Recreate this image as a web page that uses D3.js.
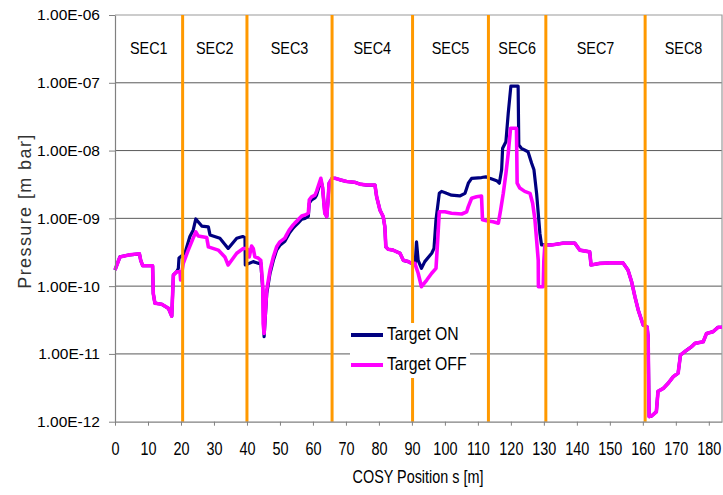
<!DOCTYPE html>
<html>
<head>
<meta charset="utf-8">
<script src="https://cdn.jsdelivr.net/npm/d3@7"></script>
<style>
  body { margin: 0; background: #fff; }
  svg { display: block; font-family: "Liberation Sans", Arial, sans-serif; }
</style>
</head>
<body>
<svg id="chart" width="723" height="495"></svg>
<script>
// Axis ticks
const xTicks = [0, 10, 20, 30, 40, 50, 60, 70, 80, 90, 100, 110, 120, 130, 140, 150, 160, 170, 180];
const yTicks = [1e-12, 1e-11, 1e-10, 1e-9, 1e-8, 1e-7, 1e-6];

// Ring sections and their boundaries along s [m]
const sectionNames = ["SEC1", "SEC2", "SEC3", "SEC4", "SEC5", "SEC6", "SEC7", "SEC8"];
const sectionEdges = [0, 20.5, 40, 65.8, 90.2, 113.2, 130.6, 160.7, 184];

// Pressure profile, target off
const offPos = [0, 1.5, 4.5, 7.4, 7.8, 8.4, 11.4, 11.6, 12.1, 14.2, 16.2, 17.2, 17.7, 18.7, 19.7, 19.9,
  20.7, 22.2, 23.7, 24.5, 25.2, 27.8, 28.3, 31.3, 33.3, 34.3, 36.9, 38.9, 39.9,
  40.4, 40.7, 41.4, 41.9, 42.4, 43.4, 44.2, 44.8, 44.9, 45.2, 46.0, 47.0, 48.0, 49.0, 50.0,
  51.5, 52.0, 52.8, 54.0, 54.5, 55.5, 56.6, 57.6, 58.6, 58.9, 59.6, 60.6, 61.1, 61.9, 62.4,
  62.9, 63.6, 64.2, 64.6, 64.9, 65.8, 66.7, 68.2, 70.2, 72.7, 74.2, 76.3, 78.8, 79.3, 80.3,
  81.3, 81.8, 82.1, 82.8, 84.3, 86.4, 87.4, 88.9, 89.9, 90.9, 91.9, 92.9, 94.5, 96.0, 97.3,
  97.7, 98.3, 100.0, 102.0, 105.1, 106.6, 107.1, 108.1, 109.6, 111.1, 111.4, 112.6, 114.6,
  116.2, 116.9, 117.7, 118.5, 119.2, 119.9, 121.7, 121.9, 122.7, 124.2, 125.8, 126.6, 127.3,
  127.8, 128.3, 128.35, 129.8, 130.0, 130.3, 132.3, 135.8, 139.4, 140.9, 143.9, 144.3, 147.0,
  150.0, 154.0, 155.5, 156.6, 157.6, 158.6, 160.1, 161.3, 161.6, 161.9, 162.6, 164.1, 164.6,
  166.2, 167.7, 169.2, 170.7, 171.4, 172.7, 174.8, 175.8, 178.3, 179.3, 181.3, 182.8, 184];
const offVal = [1.73e-10, 2.7e-10, 2.9e-10, 3.0e-10, 2.4e-10, 2.0e-10, 2.0e-10, 7.8e-11, 5.6e-11, 5.4e-11, 4.7e-11, 3.6e-11, 1.46e-10, 1.63e-10, 1.63e-10, 1.23e-10,
  2.17e-10, 3.4e-10, 5.1e-10, 6.3e-10, 5.5e-10, 5.2e-10, 3.8e-10, 3.4e-10, 2.7e-10, 2.05e-10, 3.05e-10, 3.6e-10, 3.6e-10,
  3.4e-10, 2.7e-10, 3.9e-10, 3.6e-10, 2.7e-10, 2.6e-10, 2.4e-10, 9.8e-11, 2.8e-11, 2.0e-11, 8.8e-11, 1.73e-10, 2.7e-10, 3.8e-10, 4.5e-10,
  5.1e-10, 5.7e-10, 6.7e-10, 8.0e-10, 8.5e-10, 9.5e-10, 1.08e-9, 1.12e-9, 1.19e-9, 1.87e-9, 2.08e-9, 2.2e-9, 2.5e-9, 3.3e-9, 3.9e-9,
  2.9e-9, 1.19e-9, 1.06e-9, 1.87e-9, 3.3e-9, 3.9e-9, 3.9e-9, 3.7e-9, 3.5e-9, 3.4e-9, 3.2e-9, 3.1e-9, 3.1e-9, 2.1e-9, 1.33e-9,
  1.06e-9, 7.5e-10, 3.8e-10, 3.5e-10, 3.4e-10, 3.05e-10, 2.4e-10, 2.3e-10, 2.17e-10, 2.17e-10, 1.55e-10, 9.8e-11, 1.23e-10, 1.55e-10, 1.83e-10,
  3.8e-10, 1.25e-9, 1.25e-9, 1.19e-9, 1.16e-9, 1.25e-9, 1.49e-9, 1.98e-9, 2.08e-9, 2.14e-9, 9.5e-10, 9.2e-10, 8.9e-10,
  8.5e-10, 1.33e-9, 2.34e-9, 4.6e-9, 9.1e-9, 2.13e-8, 2.13e-8, 3.3e-9, 2.8e-9, 2.5e-9, 2.34e-9, 1.67e-9, 9.5e-10,
  4.8e-10, 2.4e-10, 9.8e-11, 9.8e-11, 2.4e-10, 4.05e-10, 4.05e-10, 4.3e-10, 4.3e-10, 3.4e-10, 3.2e-10, 2.05e-10, 2.17e-10,
  2.2e-10, 2.2e-10, 1.73e-10, 1.16e-10, 7.0e-11, 4.45e-11, 2.67e-11, 2.5e-11, 1.79e-11, 1.19e-12, 1.21e-12, 1.4e-12, 2.8e-12,
  3.1e-12, 3.7e-12, 4.6e-12, 5.2e-12, 9.6e-12, 1.08e-11, 1.28e-11, 1.43e-11, 1.51e-11, 2.0e-11, 2.13e-11, 2.47e-11, 2.47e-11];

// Pressure profile, target on
const onPos = [0, 1.5, 4.5, 7.4, 7.8, 8.4, 11.4, 11.6, 12.1, 14.2, 16.2, 17.2, 17.7, 18.7, 19.2, 19.4,
  21.2, 22.7, 23.7, 24.5, 25.2, 26.3, 28.3, 28.8, 31.8, 34.3, 36.9, 38.7, 39.4, 39.5,
  41.9, 43.4, 44.2, 44.8, 45.2, 46.0, 47.0, 48.0, 49.0, 50.0, 51.5, 52.0, 52.8, 54.0, 54.5,
  55.5, 56.6, 57.6, 58.6, 58.9, 59.6, 60.6, 61.1, 61.9, 62.4, 62.9, 63.6, 64.2, 64.6, 64.9,
  65.8, 66.7, 68.2, 70.2, 72.7, 74.2, 76.3, 78.8, 79.3, 80.3, 81.3, 81.8, 82.1, 82.8, 84.3,
  86.4, 87.4, 88.9, 89.9, 91.0, 91.4, 91.9, 92.9, 93.9, 96.0, 96.7, 97.3, 98.3, 99.0, 100.5,
  102.0, 104.5, 106.1, 107.1, 108.1, 111.1, 112.4, 113.6, 115.7, 116.5, 117.2, 117.5, 118.5,
  119.2, 120.0, 122.2, 122.4, 123.2, 125.2, 126.3, 127.0, 127.8, 128.8, 129.3, 130.3, 132.3,
  135.8, 139.4, 140.9, 143.9, 144.3, 147.0, 150.0, 154.0, 155.5, 156.6, 157.6, 158.6, 160.1,
  161.3, 161.6, 161.9, 162.6, 164.1, 164.6, 166.2, 167.7, 169.2, 170.7, 171.4, 172.7, 174.8,
  175.8, 178.3, 179.3, 181.3, 182.8, 184];
const onVal = [1.73e-10, 2.7e-10, 2.9e-10, 3.0e-10, 2.4e-10, 2.0e-10, 2.0e-10, 7.8e-11, 5.6e-11, 5.4e-11, 4.7e-11, 3.6e-11, 1.46e-10, 1.63e-10, 1.83e-10, 2.6e-10,
  3.05e-10, 5.4e-10, 6.7e-10, 9.8e-10, 8.9e-10, 7.7e-10, 7.5e-10, 5.7e-10, 5.1e-10, 3.6e-10, 5.1e-10, 5.4e-10, 5.2e-10, 2.05e-10,
  2.3e-10, 2.17e-10, 2.2e-10, 8.8e-11, 1.8e-11, 7.8e-11, 1.55e-10, 2.4e-10, 3.4e-10, 4.0e-10, 4.6e-10, 5.1e-10, 6.0e-10, 7.2e-10, 7.6e-10,
  8.5e-10, 9.7e-10, 1.0e-9, 1.07e-9, 1.68e-9, 1.87e-9, 2.0e-9, 2.2e-9, 3.0e-9, 3.7e-9, 2.9e-9, 1.19e-9, 1.06e-9, 1.87e-9, 3.3e-9,
  3.9e-9, 3.9e-9, 3.7e-9, 3.5e-9, 3.4e-9, 3.2e-9, 3.1e-9, 3.1e-9, 2.1e-9, 1.33e-9, 1.06e-9, 7.5e-10, 3.8e-10, 3.5e-10, 3.4e-10,
  3.05e-10, 2.4e-10, 2.3e-10, 2.17e-10, 2.2e-10, 4.5e-10, 2.4e-10, 1.83e-10, 2.3e-10, 3.05e-10, 3.6e-10, 9.5e-10, 2.34e-9, 2.5e-9, 2.34e-9,
  2.2e-9, 2.14e-9, 2.34e-9, 3.3e-9, 3.9e-9, 4.0e-9, 4.1e-9, 3.9e-9, 3.6e-9, 3.3e-9, 5.2e-9, 1.08e-8, 1.35e-8,
  3.55e-8, 8.9e-8, 8.9e-8, 1.21e-8, 1.08e-8, 9.6e-9, 6.5e-9, 5.2e-9, 2.34e-9, 6.0e-10, 4.05e-10, 4.05e-10, 4.05e-10,
  4.3e-10, 4.3e-10, 3.4e-10, 3.2e-10, 2.05e-10, 2.17e-10, 2.2e-10, 2.2e-10, 1.73e-10, 1.16e-10, 7.0e-11, 4.45e-11, 2.67e-11,
  2.5e-11, 1.79e-11, 1.19e-12, 1.21e-12, 1.4e-12, 2.8e-12, 3.1e-12, 3.7e-12, 4.6e-12, 5.2e-12, 9.6e-12, 1.08e-11, 1.28e-11,
  1.43e-11, 1.51e-11, 2.0e-11, 2.13e-11, 2.47e-11, 2.47e-11];

const seriesNames = ["Target ON", "Target OFF"];
const seriesColors = ["#000080", "#ff00ff"];

const svg = d3.select("#chart");
const plot = { left: 115, right: 722, top: 15, bottom: 421.7 };

const x = d3.scaleLinear().domain([0, 184]).range([plot.left, plot.right]);
const y = d3.scaleLog().domain([1e-12, 1e-6]).range([plot.bottom, plot.top]);

const fmtE = d => {
  const e = Math.round(Math.log10(d));
  return "1.00E" + (e < 0 ? "-" : "+") + String(Math.abs(e)).padStart(2, "0");
};

// horizontal gridlines at each decade
svg.append("g")
  .selectAll("line")
  .data(yTicks.slice(1, -1))
  .join("line")
  .attr("x1", plot.left).attr("x2", plot.right)
  .attr("y1", d => y(d)).attr("y2", d => y(d))
  .attr("stroke", "#5a5a5a").attr("stroke-width", 1);

// plot frame (top and right)
svg.append("path")
  .attr("d", `M${plot.left},${plot.top}H${plot.right}V${plot.bottom}`)
  .attr("fill", "none").attr("stroke", "#9a9a9a").attr("stroke-width", 1.2);

// curves
const line = d3.line().x(d => x(d[0])).y(d => y(d[1]));
const onData = onPos.map((s, i) => [s, onVal[i]]);
const offData = offPos.map((s, i) => [s, offVal[i]]);
svg.append("path").datum(onData).attr("d", line)
  .attr("fill", "none").attr("stroke", seriesColors[0]).attr("stroke-width", 3.2)
  .attr("stroke-linejoin", "round");
svg.append("path").datum(offData).attr("d", line)
  .attr("fill", "none").attr("stroke", seriesColors[1]).attr("stroke-width", 3.6)
  .attr("stroke-linejoin", "round");

// section boundaries
svg.append("g")
  .selectAll("line")
  .data(sectionEdges.slice(1, -1))
  .join("line")
  .attr("x1", d => x(d)).attr("x2", d => x(d))
  .attr("y1", plot.top).attr("y2", plot.bottom)
  .attr("stroke", "#ff9900").attr("stroke-width", 3);

// section names
svg.append("g")
  .selectAll("text")
  .data(sectionNames)
  .join("text")
  .attr("transform", (d, i) => `translate(${x((sectionEdges[i] + sectionEdges[i + 1]) / 2)},54) scale(0.9,1)`)
  .attr("text-anchor", "middle")
  .attr("font-size", 16)
  .attr("fill", "#000")
  .text(d => d);

// axes
const xAxis = svg.append("g")
  .attr("transform", `translate(0,${plot.bottom})`)
  .call(d3.axisBottom(x).tickValues(xTicks).tickSize(4).tickPadding(16).tickSizeOuter(0).tickFormat(d3.format("d")));
xAxis.select(".domain").attr("stroke", "#808080").attr("stroke-width", 1.2);
xAxis.selectAll(".tick line").attr("stroke", "#808080");
xAxis.selectAll(".tick text")
  .attr("font-size", 19).attr("font-family", "Liberation Sans, Arial, sans-serif")
  .attr("fill", "#000").attr("transform", "scale(0.76,1)");

const yAxis = svg.append("g")
  .attr("transform", `translate(${plot.left},0)`)
  .call(d3.axisLeft(y).tickValues(yTicks).tickSize(6).tickPadding(9).tickSizeOuter(0).tickFormat(fmtE));
yAxis.select(".domain").attr("stroke", "#808080").attr("stroke-width", 1.2);
yAxis.selectAll(".tick line").attr("stroke", "#808080");
yAxis.selectAll(".tick text")
  .attr("font-size", 15.5).attr("font-family", "Liberation Sans, Arial, sans-serif")
  .attr("fill", "#000");

// axis titles
svg.append("text")
  .attr("transform", "translate(418,483) scale(0.8,1)")
  .attr("text-anchor", "middle").attr("font-size", 18).attr("fill", "#000")
  .text("COSY Position s [m]");
svg.append("text")
  .attr("transform", "translate(31,211) rotate(-90)")
  .attr("text-anchor", "middle").attr("font-size", 18).attr("letter-spacing", 1.4)
  .attr("fill", "#333")
  .text("Pressure [m bar]");

// legend
const legend = svg.append("g");
legend.append("rect").attr("x", 350).attr("y", 323).attr("width", 120).attr("height", 55).attr("fill", "#fff");
seriesNames.forEach((name, i) => {
  const ly = 335 + i * 30;
  legend.append("line")
    .attr("x1", 351).attr("x2", 383).attr("y1", ly).attr("y2", ly)
    .attr("stroke", seriesColors[i]).attr("stroke-width", 4);
  legend.append("text")
    .attr("transform", `translate(387,${ly + 4.5}) scale(0.9,1)`)
    .attr("font-size", 17.5).attr("fill", "#000")
    .text(name);
});
</script>
</body>
</html>
